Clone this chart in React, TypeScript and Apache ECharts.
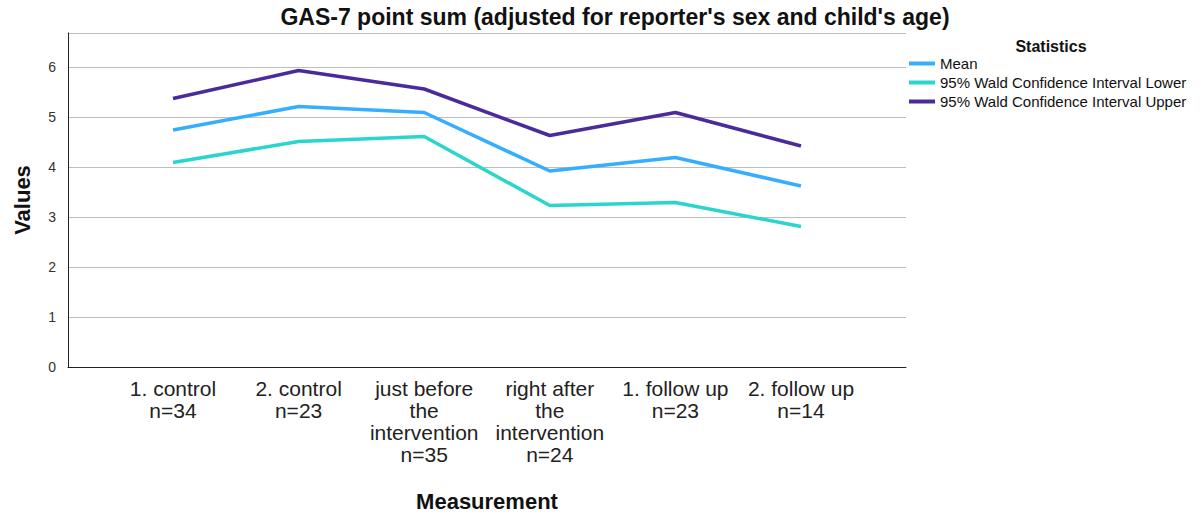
import React, { useEffect, useRef } from "react";
import * as echarts from "echarts";

const categories = [
  "1. control\nn=34",
  "2. control\nn=23",
  "just before\nthe\nintervention\nn=35",
  "right after\nthe\nintervention\nn=24",
  "1. follow up\nn=23",
  "2. follow up\nn=14",
];
const meanValues = [4.74, 5.21, 5.09, 3.92, 4.19, 3.62];
const lowerValues = [4.09, 4.51, 4.61, 3.23, 3.29, 2.81];
const upperValues = [5.37, 5.93, 5.56, 4.63, 5.09, 4.42];
const seriesNames = [
  "Mean",
  "95% Wald Confidence Interval Lower",
  "95% Wald Confidence Interval Upper",
];
const colors = ["#36AEFF", "#2AD5CD", "#4B2A9C"];

const FONT = "'Liberation Sans', Arial, sans-serif";

export default function App() {
  const ref = useRef<HTMLDivElement>(null);
  useEffect(() => {
    if (!ref.current) return;
    const chart = echarts.init(ref.current, undefined, { renderer: "svg" });
    const yMax = 6.68;
    chart.setOption({
      animation: false,
      backgroundColor: "#ffffff",
      textStyle: { fontFamily: FONT },
      title: {
        text: "GAS-7 point sum (adjusted for reporter's sex and child's age)",
        left: 610,
        textAlign: "center",
        top: 0,
        textStyle: { fontFamily: FONT, fontSize: 23, fontWeight: "bold", color: "#111" },
      },
      graphic: [
        {
          type: "text",
          x: 1051,
          y: 46,
          style: {
            text: "Statistics",
            font: `bold 16px ${FONT}`,
            fill: "#111",
            align: "center",
            verticalAlign: "middle",
          },
        },
      ],
      legend: {
        orient: "vertical",
        left: 909,
        top: 56,
        padding: 0,
        itemWidth: 26,
        itemHeight: 4,
        itemGap: 4,
        icon: "rect",
        data: seriesNames,
        textStyle: { fontFamily: FONT, fontSize: 15, lineHeight: 15, color: "#111" },
      },
      grid: [
        { left: 68, right: 296, top: 33, bottom: 148, containLabel: false, outerBoundsMode: "none" },
        { left: 173, right: 401, top: 33, bottom: 148, containLabel: false, outerBoundsMode: "none" },
      ],
      xAxis: [
        {
          type: "value",
          gridIndex: 0,
          min: 0,
          max: 1,
          axisLine: { show: true, onZero: false, lineStyle: { color: "#222", width: 1 } },
          axisTick: { show: false },
          axisLabel: { show: false },
          splitLine: { show: false },
          name: "Measurement",
          nameLocation: "middle",
          nameGap: 123,
          nameTextStyle: { fontFamily: FONT, fontSize: 22, fontWeight: "bold", color: "#111" },
        },
        {
          type: "category",
          gridIndex: 1,
          data: categories,
          boundaryGap: false,
          axisLine: { show: false },
          axisTick: { show: false },
          splitLine: { show: false },
          axisLabel: {
            interval: 0,
            margin: 10,
            fontFamily: FONT,
            fontSize: 21,
            lineHeight: 22,
            color: "#222",
            align: "center",
          },
        },
      ],
      yAxis: [
        {
          type: "value",
          gridIndex: 0,
          min: 0,
          max: yMax,
          interval: 1,
          axisLine: { show: true, lineStyle: { color: "#222", width: 1 } },
          axisTick: { show: false },
          axisLabel: {
            margin: 12,
            fontFamily: FONT,
            fontSize: 14,
            color: "#333",
            showMaxLabel: false,
          },
          splitLine: { show: true, lineStyle: { color: "#BDBDBD", width: 1 } },
          name: "Values",
          nameLocation: "middle",
          nameGap: 35,
          nameRotate: 90,
          nameTextStyle: { fontFamily: FONT, fontSize: 22, fontWeight: "bold", color: "#111" },
        },
        {
          type: "value",
          gridIndex: 1,
          min: 0,
          max: yMax,
          show: false,
          splitLine: { show: false },
        },
      ],
      series: [
        { name: seriesNames[0], data: meanValues, color: colors[0] },
        { name: seriesNames[1], data: lowerValues, color: colors[1] },
        { name: seriesNames[2], data: upperValues, color: colors[2] },
      ].map((s) => ({
        type: "line",
        name: s.name,
        data: s.data,
        xAxisIndex: 1,
        yAxisIndex: 1,
        symbol: "none",
        itemStyle: { color: s.color },
        lineStyle: { color: s.color, width: 3.5 },
      })),
    });
    return () => chart.dispose();
  }, []);
  return (
    <div
      ref={ref}
      style={{ position: "absolute", left: 0, top: 0, width: 1202, height: 515 }}
    />
  );
}
